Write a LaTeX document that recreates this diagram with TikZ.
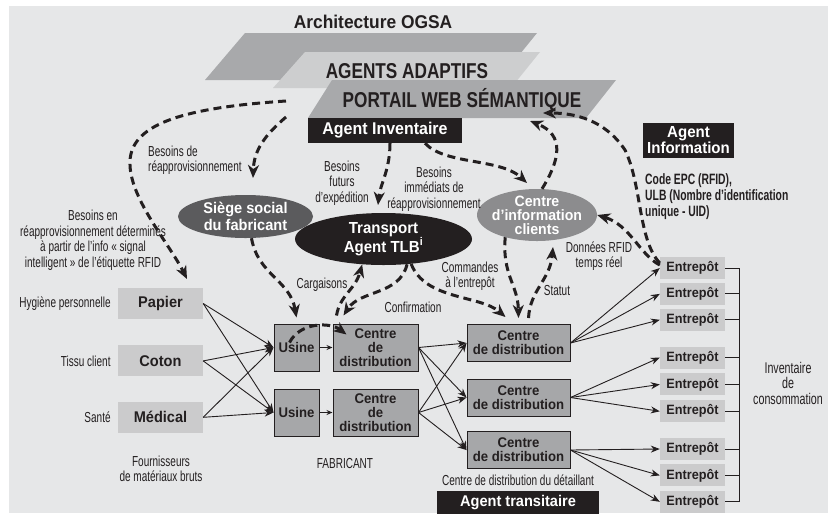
\documentclass[tikz,border=0pt]{standalone}
\usepackage{fontspec}
\setmainfont{Liberation Sans}[FakeStretch=0.94]
\newfontfamily\narrowfont{Liberation Sans}[FakeStretch=0.69]
\newfontfamily\bandfont{Liberation Sans}[FakeStretch=0.8]
\definecolor{ogbg}{HTML}{E6E7E8}
\definecolor{ogband}{HTML}{A8A9AB}
\definecolor{oglight}{HTML}{CDCECF}
\definecolor{ogpale}{HTML}{CBCBCC}
\definecolor{ogmid}{HTML}{A6A7A9}
\definecolor{ogdark}{HTML}{5B5B5D}
\definecolor{oginfo}{HTML}{8C8C8E}
\definecolor{ogink}{HTML}{231F20}
\usetikzlibrary{arrows.meta,positioning,shapes.geometric}

\begin{document}
\begin{tikzpicture}[x=1pt,y=-1pt,
  tier/.style={font=\bandfont\bfseries\fontsize{21.5}{21.5}\selectfont,text=ogink,inner sep=0pt},
  raw/.style={fill=ogpale,font=\bfseries\fontsize{15.5}{17}\selectfont,text=ogink,
    minimum width=85pt,minimum height=31pt,inner sep=0pt},
  whs/.style={fill=ogpale,font=\bfseries\fontsize{13.5}{15}\selectfont,text=ogink,
    minimum width=65pt,minimum height=22pt,inner sep=0pt},
  plant/.style={draw=ogink,line width=1pt,fill=ogmid,font=\bfseries\fontsize{14}{14}\selectfont,
    text=ogink,align=center,minimum height=47pt,inner sep=0pt},
  agent/.style={fill=ogink,text=white,font=\bfseries\fontsize{17}{16}\selectfont,align=center,inner sep=0pt},
  blob/.style={ellipse,text=white,font=\bfseries\fontsize{15.5}{17}\selectfont,align=center,inner sep=-6pt},
  q/.style={font=\narrowfont\fontsize{14.5}{15.5}\selectfont,text=ogink,align=center,inner sep=0pt},
  flow/.style={-{Stealth[length=9pt,width=7pt]},line width=0.9pt,ogink},
  msg/.style={-{Stealth[length=13pt,width=11pt,inset=4pt]},line width=3pt,dash pattern=on 8pt off 5pt,ogink},
  ln/.style={line width=0.9pt,ogink}]
  \useasboundingbox (0,0) rectangle (834,515);
  \fill[ogbg] (9,6) rectangle (828,513);
  \fill[ogband] (245,33) -- (537,33) -- (499,80) -- (205,80) -- cycle;
  \fill[oglight] (305,52) -- (540,52) -- (511,88) -- (273,88) -- cycle;
  \fill[ogband] (332,80) -- (616,80) -- (586,118) -- (308,118) -- cycle;
  \node[tier,font=\bfseries\fontsize{18.5}{18.5}\selectfont] (ogsa) at (373,22) {Architecture OGSA};
  \node[tier] (adapt) at (407,71) {AGENTS ADAPTIFS};
  \node[tier] (portail) at (462,100) {PORTAIL WEB SÉMANTIQUE};
  \node[agent,minimum width=154pt,minimum height=25pt] (inv) at (385,130.5) {Agent Inventaire};
  \node[agent,minimum width=91pt,minimum height=35pt,font=\bfseries\fontsize{16}{16}\selectfont]
    (aginfo) at (688.5,140.5) {Agent\\Information};
  \node[q,anchor=west,align=left,font=\narrowfont\bfseries\fontsize{15}{16}\selectfont]
    (epc) at (645,197) {Code EPC (RFID),\\ULB (Nombre d’identification\\unique - UID)};

  \node[blob,fill=ogdark,minimum width=135pt,minimum height=43pt] (siege) at (245.5,216.5)
    {Siège social\\du fabricant};
  \node[blob,fill=ogink,minimum width=177pt,minimum height=52pt,font=\bfseries\fontsize{16}{16}\selectfont]
    (transport) at (383.5,239) {Transport\\Agent TLB\textsuperscript{i}};
  \node[blob,fill=oginfo,minimum width=120pt,minimum height=52pt,font=\bfseries\fontsize{15}{14}\selectfont]
    (info) at (537,215) {Centre\\d’information\\clients};

  \node[raw] (papier) at (160.5,303.5) {Papier};
  \node[raw,below=26pt of papier] (coton) {Coton};
  \node[raw,below=25pt of coton] (medical) {Médical};
  \node[q,left=7pt of papier] (hyg) {Hygiène personnelle};
  \node[q,left=7pt of coton] (tissu) {Tissu client};
  \node[q,left=7pt of medical] (sante) {Santé};
  \node[q] (fourn) at (161,469) {Fournisseurs\\de matériaux bruts};
  \node[q] (fabr) at (345,463) {FABRICANT};

  \node[plant,minimum width=45pt] (usineA) at (296.5,347.5) {Usine};
  \node[plant,minimum width=85pt,right=13pt of usineA] (cdA) {Centre\\de\\distribution};
  \node[plant,minimum width=45pt,below=17pt of usineA] (usineB) {Usine};
  \node[plant,minimum width=85pt,right=13pt of usineB] (cdB) {Centre\\de\\distribution};

  \node[plant,minimum width=103pt,minimum height=37pt] (rcdA) at (518.5,343) {Centre\\de distribution};
  \node[plant,minimum width=103pt,minimum height=37pt] (rcdB) at (518.5,397.5) {Centre\\de distribution};
  \node[plant,minimum width=103pt,minimum height=37pt] (rcdC) at (518.5,450) {Centre\\de distribution};
  \node[q] (detail) at (518,480) {Centre de distribution du détaillant};
  \node[agent,minimum width=162pt,minimum height=23pt,font=\bfseries\fontsize{15.5}{16}\selectfont]
    (transit) at (518,502.5) {Agent transitaire};

  \node[whs] (e1) at (692.5,268) {Entrepôt};
  \node[whs,below=3.5pt of e1] (e2) {Entrepôt};
  \node[whs,below=3.5pt of e2] (e3) {Entrepôt};
  \node[whs] (e4) at (692.5,357.5) {Entrepôt};
  \node[whs,below=4.5pt of e4] (e5) {Entrepôt};
  \node[whs,below=4.5pt of e5] (e6) {Entrepôt};
  \node[whs] (e7) at (692.5,449) {Entrepôt};
  \node[whs,below=4pt of e7] (e8) {Entrepôt};
  \node[whs,below=4pt of e8] (e9) {Entrepôt};
  \node[q,font=\narrowfont\fontsize{15.5}{15.5}\selectfont] (conso) at (788,383) {Inventaire\\de\\consommation};

  \node[q,anchor=west,align=left] (qreap) at (148,160) {Besoins de\\réapprovisionnement};
  \node[q] (qrfid) at (93,240) {Besoins en\\réapprovisionnement déterminés\\à partir de l’info « signal\\intelligent » de l’étiquette RFID};
  \node[q] (qfutur) at (342,183) {Besoins\\futurs\\d’expédition};
  \node[q] (qimm) at (434,189) {Besoins\\immédiats de\\réapprovisionnement};
  \node[q] (qcarg) at (322,285) {Cargaisons};
  \node[q] (qconf) at (413,307) {Confirmation};
  \node[q] (qcmd) at (470,276) {Commandes\\à l’entrepôt};
  \node[q] (qstat) at (557,290) {Statut};
  \node[q] (qdon) at (599,256) {Données RFID\\temps réel};

  \foreach \src in {papier,coton,medical}
    \foreach \dst in {usineA,usineB}
      \draw[flow] (\src.east) -- (\dst.west);
  \draw[flow,-{Stealth[length=6pt,width=5pt]}] (usineA) -- (cdA);
  \draw[flow,-{Stealth[length=6pt,width=5pt]}] (usineB) -- (cdB);
  \foreach \src in {cdA,cdB}
    \foreach \dst in {rcdA,rcdB,rcdC}
      \draw[flow] (\src.east) -- (\dst.west);
  \foreach \i in {1,2,3} \draw[flow] (rcdA.east) -- (e\i.west);
  \foreach \i in {4,5,6} \draw[flow] (rcdB.east) -- (e\i.west);
  \foreach \i in {7,8,9} \draw[flow] (rcdC.east) -- (e\i.west);
  \coordinate (brk) at (739,0);
  \foreach \i in {1,...,9} \draw[ln] (e\i.east) -- (e\i.east -| brk);
  \draw[ln] (e1.east -| brk) -- (e9.east -| brk);

  \coordinate (pwl1) at (286,101);
  \coordinate (pwl2) at (286,117);
  \coordinate (pwr1) at (530,121);
  \coordinate (pwr2) at (543,113);
  \coordinate (rfidin) at (187,279);
  \coordinate (siegein) at (253,178);
  \coordinate (tlbin) at (378,205);
  \coordinate (infoin) at (527,183);
  \coordinate (infoout) at (553,247);
  \draw[msg] (pwl1) .. controls (180,108) and (128,125) .. (130,165)
    .. controls (131,200) and (170,245) .. (rfidin);
  \draw[msg] (pwl2) .. controls (265,135) and (254,150) .. (siegein);
  \draw[msg] ([xshift=5pt]inv.south) .. controls (390,170) and (380,185) .. (tlbin);
  \draw[msg] ([xshift=40pt]inv.south) .. controls (445,165) and (500,158) .. (infoin);
  \draw[msg] ([xshift=5pt]info.north) .. controls (560,160) and (565,135) .. (pwr1);
  \draw[msg] ([yshift=5pt]e1.west) .. controls (638,240) and (642,185) .. (625,150)
    .. controls (605,120) and (575,113) .. (pwr2);
  \draw[msg] ([yshift=3pt]e1.west) .. controls (640,255) and (630,225) .. (info.east);
  \draw[msg] ([xshift=6pt]siege.south) .. controls (258,275) and (290,280) .. ([yshift=6pt]usineA.north);
  \draw[msg] ([xshift=-7pt,yshift=5pt]usineA.center) .. controls (300,322) and (330,322)
    .. ([xshift=14pt,yshift=-11pt]cdA.north west);
  \draw[msg] ([xshift=-39pt,yshift=8pt]cdA.north) .. controls (340,295) and (355,290) .. (transport.-130);
  \draw[msg] (transport.-47) .. controls (400,295) and (360,290) .. ([xshift=-32pt,yshift=8pt]cdA.north);
  \draw[msg] (transport.-42) .. controls (425,300) and (480,295) .. ([xshift=-13pt,yshift=7pt]rcdA.north);
  \draw[msg] (info.-145) .. controls (502,275) and (518,285) .. ([yshift=6pt]rcdA.north);
  \draw[msg] ([xshift=10pt,yshift=6pt]rcdA.north) .. controls (530,290) and (550,280) .. (infoout);
\end{tikzpicture}
\end{document}
